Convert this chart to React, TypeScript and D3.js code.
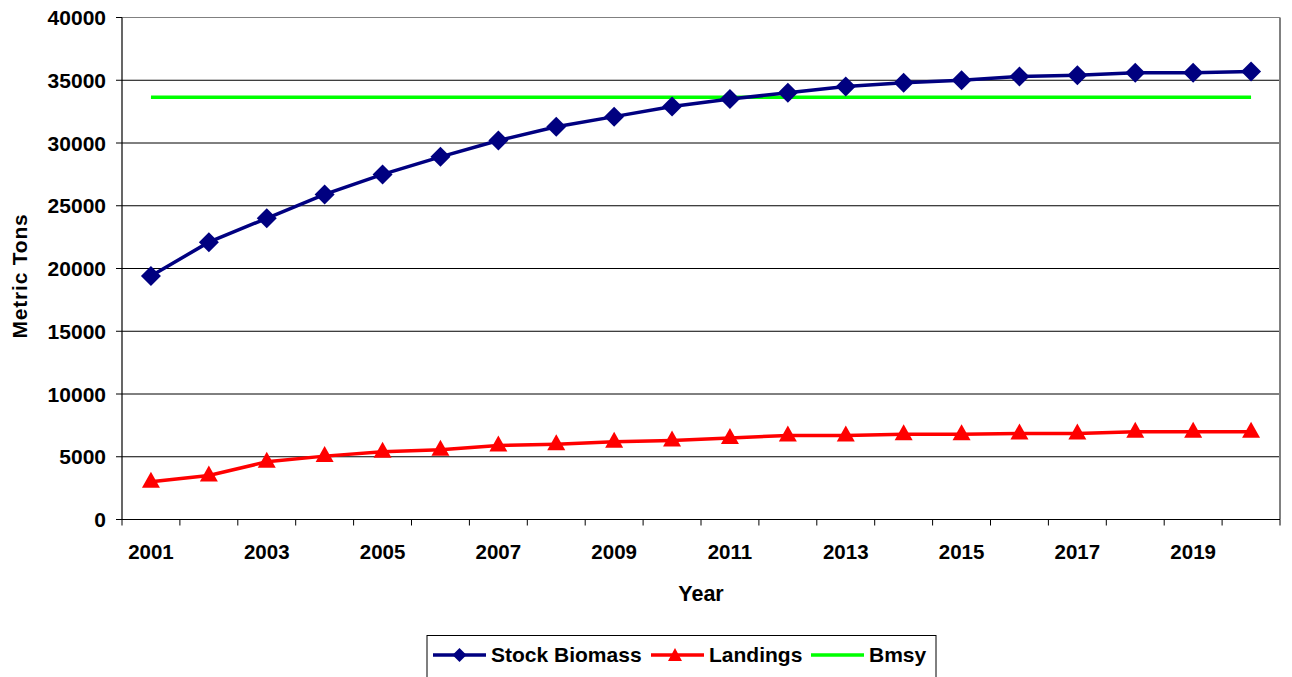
import React from "react";
import * as d3 from "d3";

const years = [2001, 2002, 2003, 2004, 2005, 2006, 2007, 2008, 2009, 2010, 2011, 2012, 2013, 2014, 2015, 2016, 2017, 2018, 2019, 2020];
const stockBiomass = [19400, 22100, 24000, 25900, 27500, 28900, 30200, 31300, 32100, 32900, 33500, 34000, 34500, 34800, 35000, 35300, 35400, 35600, 35600, 35700];
const landings = [3000, 3500, 4600, 5050, 5400, 5550, 5900, 6000, 6200, 6300, 6500, 6700, 6700, 6800, 6800, 6850, 6850, 7000, 7000, 7000];
const bmsy = 33650;
const yTicks = [0, 5000, 10000, 15000, 20000, 25000, 30000, 35000, 40000];
const xLabelYears = [2001, 2003, 2005, 2007, 2009, 2011, 2013, 2015, 2017, 2019];

const W = 1292, H = 677;
const left = 122, right = 1280, top = 17.5, bottom = 519.5;
const FONT = "'Liberation Sans', Arial, sans-serif";

export default function App() {
  const x = d3.scaleBand<number>().domain(years).range([left, right]);
  const cx = (yr: number) => (x(yr) as number) + x.bandwidth() / 2;
  const y = d3.scaleLinear().domain([0, 40000]).range([bottom, top]);
  const line = d3.line<number>().x((_, i) => cx(years[i])).y((d) => y(d));

  const diamond = (px: number, py: number, r = 10) =>
    `M${px},${py - r}L${px + r},${py}L${px},${py + r}L${px - r},${py}Z`;
  const tri = (px: number, py: number) =>
    `M${px},${py - 10}L${px + 9},${py + 6}L${px - 9},${py + 6}Z`;

  const boundaries = years.map((yr) => x(yr) as number).concat([right]);

  return (
    <svg width={W} height={H} style={{ position: "absolute", left: 0, top: 0, display: "block" }} fontFamily={FONT}>
      <rect x={0} y={0} width={W} height={H} fill="#fff" />
      {/* grid */}
      {yTicks.filter((t) => t > 0).map((t) => (
        <line key={t} x1={left} x2={right} y1={y(t)} y2={y(t)} stroke={t === 40000 ? "#808080" : "#000"} strokeWidth={1} />
      ))}
      <line x1={right} x2={right} y1={top} y2={bottom} stroke="#808080" strokeWidth={2} />
      {/* axes */}
      <line x1={left} x2={left} y1={top} y2={bottom + 0.5} stroke="#000" strokeWidth={1.2} />
      <line x1={left} x2={right} y1={bottom} y2={bottom} stroke="#000" strokeWidth={1.2} />
      {yTicks.map((t) => (
        <g key={t}>
          <line x1={left - 6} x2={left} y1={y(t)} y2={y(t)} stroke="#000" strokeWidth={1} />
          <text x={106} y={y(t)} dy="0.36em" textAnchor="end" fontSize={21} fontWeight="bold">{t}</text>
        </g>
      ))}
      {boundaries.map((b, i) => (
        <line key={i} x1={b} x2={b} y1={bottom} y2={bottom + 6} stroke="#000" strokeWidth={1} />
      ))}
      {xLabelYears.map((yr) => (
        <text key={yr} x={cx(yr)} y={559} textAnchor="middle" fontSize={20.5} fontWeight="bold">{yr}</text>
      ))}
      <text x={(left + right) / 2} y={601} textAnchor="middle" fontSize={21.5} fontWeight="bold">Year</text>
      <text transform={`translate(27,${276}) rotate(-90)`} textAnchor="middle" fontSize={21} fontWeight="bold" letterSpacing={0.8}>Metric Tons</text>

      {/* Bmsy */}
      <line x1={cx(years[0])} x2={cx(years[years.length - 1])} y1={y(bmsy)} y2={y(bmsy)} stroke="#00ff00" strokeWidth={3.5} />
      {/* Landings */}
      <path d={line(landings) || ""} fill="none" stroke="#ff0000" strokeWidth={3.5} />
      {landings.map((v, i) => <path key={i} d={tri(cx(years[i]), y(v))} fill="#ff0000" />)}
      {/* Stock Biomass */}
      <path d={line(stockBiomass) || ""} fill="none" stroke="#000080" strokeWidth={3.5} />
      {stockBiomass.map((v, i) => <path key={i} d={diamond(cx(years[i]), y(v))} fill="#000080" />)}

      {/* legend */}
      <rect x={427} y={635.5} width={509} height={50} fill="#fff" stroke="#000" strokeWidth={1} />
      <line x1={433} x2={486} y1={655} y2={655} stroke="#000080" strokeWidth={3.5} />
      <path d={diamond(459.5, 655, 7)} fill="#000080" />
      <text x={491} y={662} fontSize={21} fontWeight="bold">Stock Biomass</text>
      <line x1={651} x2={704} y1={655} y2={655} stroke="#ff0000" strokeWidth={3.5} />
      <path d={`M675,648L682,661L668,661Z`} fill="#ff0000" />
      <text x={709} y={662} fontSize={21} fontWeight="bold">Landings</text>
      <line x1={811} x2={864} y1={655} y2={655} stroke="#00ff00" strokeWidth={3.5} />
      <text x={869} y={662} fontSize={21} fontWeight="bold">Bmsy</text>
    </svg>
  );
}
